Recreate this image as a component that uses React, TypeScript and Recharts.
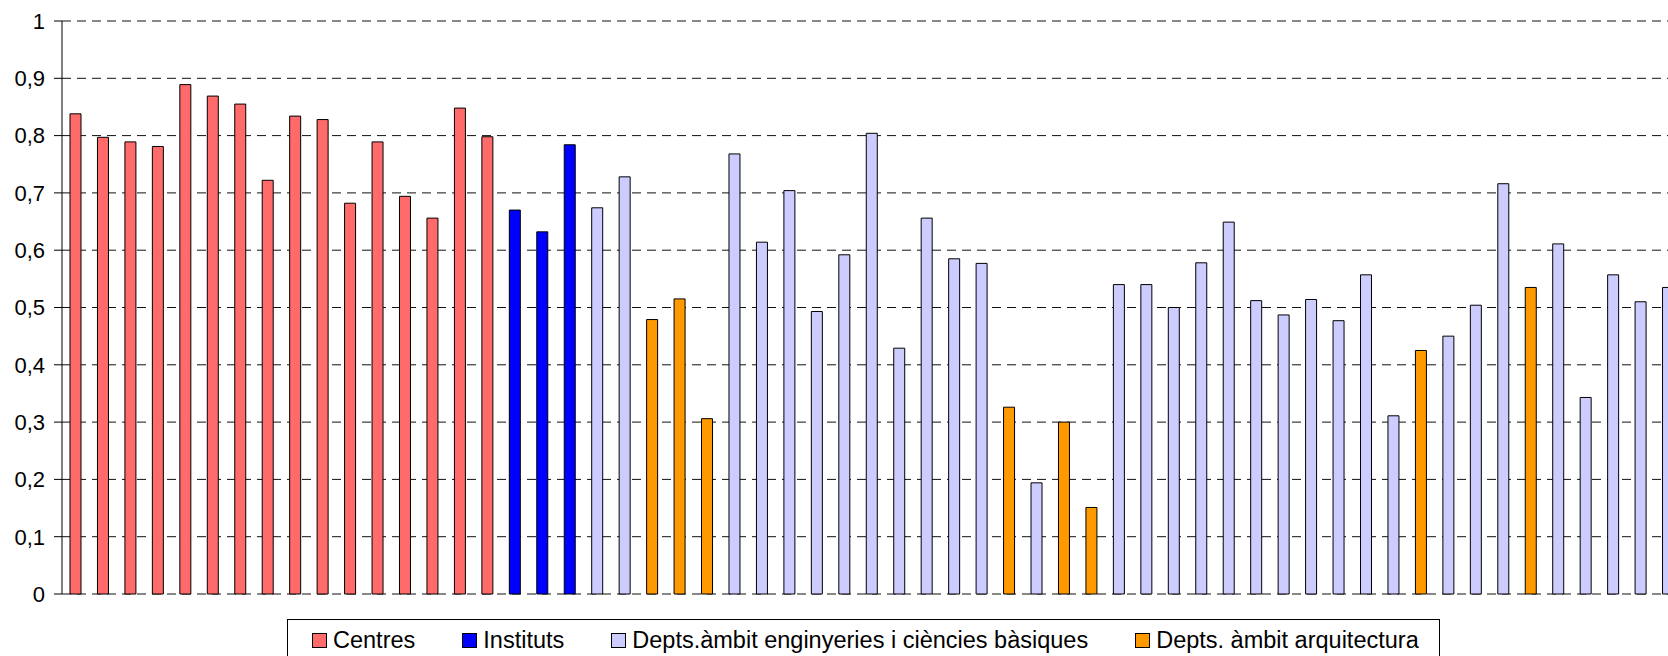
import React from "react";
import { BarChart, Bar, Cell, XAxis, YAxis, CartesianGrid } from "recharts";

// one entry per bar, left to right (the picture is cut after the 59th)
const units = Array.from({ length: 59 }, (_, i) => `U${i + 1}`);

const values = [
  0.838, 0.797, 0.789, 0.781, 0.889, 0.869, 0.855, 0.722, 0.834, 0.828,
  0.682, 0.789, 0.694, 0.656, 0.848, 0.798,
  0.67, 0.632, 0.784,
  0.674, 0.728,
  0.479, 0.515, 0.306,
  0.768, 0.614, 0.704, 0.493, 0.592, 0.804, 0.429, 0.656, 0.585, 0.577,
  0.326, 0.194, 0.3, 0.151,
  0.54, 0.54, 0.5, 0.578, 0.649, 0.512, 0.487, 0.514, 0.477, 0.557, 0.311,
  0.425, 0.45, 0.504, 0.716, 0.535, 0.611, 0.343, 0.557, 0.51, 0.535,
];

// C = Centres, I = Instituts, E = Depts. enginyeries, A = Depts. arquitectura
const groups = [
  "C", "C", "C", "C", "C", "C", "C", "C", "C", "C", "C", "C", "C", "C", "C", "C",
  "I", "I", "I",
  "E", "E",
  "A", "A", "A",
  "E", "E", "E", "E", "E", "E", "E", "E", "E", "E",
  "A", "E", "A", "A",
  "E", "E", "E", "E", "E", "E", "E", "E", "E", "E", "E",
  "A", "E", "E", "E", "A", "E", "E", "E", "E", "E",
];

const yTicks = [0, 0.1, 0.2, 0.3, 0.4, 0.5, 0.6, 0.7, 0.8, 0.9, 1];

const legendItems = [
  { key: "C", label: "Centres", color: "#FF6B6B" },
  { key: "I", label: "Instituts", color: "#0000FF" },
  { key: "E", label: "Depts.àmbit enginyeries i ciències bàsiques", color: "#CCCCFF" },
  { key: "A", label: "Depts. àmbit arquitectura", color: "#FF9900" },
];

const colorOf: Record<string, string> = Object.fromEntries(
  legendItems.map((l) => [l.key, l.color])
);

const data = units.map((u, i) => ({ unit: u, value: values[i], group: groups[i] }));

const FONT = '"Liberation Sans", Arial, Helvetica, sans-serif';

export default function App() {
  return (
    <div
      style={{
        position: "absolute",
        left: 0,
        top: 0,
        width: 1668,
        height: 656,
        overflow: "hidden",
        background: "#fff",
        fontFamily: FONT,
      }}
    >
      <BarChart
        width={1682}
        height={656}
        data={data}
        margin={{ top: 21, right: 0, bottom: 62, left: 0 }}
      >
        <CartesianGrid
          vertical={false}
          stroke="#111"
          strokeDasharray="9 6"
        />
        <XAxis dataKey="unit" hide />
        <YAxis
          width={62}
          domain={[0, 1]}
          ticks={yTicks}
          interval={0}
          tickSize={8}
          tickMargin={9}
          tickFormatter={(v: number) => String(v).replace(".", ",")}
          tick={{ fill: "#000", fontSize: 22, fontFamily: FONT }}
          axisLine={{ stroke: "#000", strokeWidth: 1 }}
          tickLine={{ stroke: "#000", strokeWidth: 1 }}
        />
        <Bar dataKey="value" barSize={11} stroke="#000" strokeWidth={1} isAnimationActive={false}>
          {data.map((d) => (
            <Cell key={d.unit} fill={colorOf[d.group]} />
          ))}
        </Bar>
      </BarChart>

      <div
        style={{
          position: "absolute",
          left: 287,
          top: 619,
          width: 1151,
          height: 60,
          border: "1px solid #000",
        }}
      >
        <div
          style={{
            position: "absolute",
            left: 24,
            top: 9,
            display: "flex",
            alignItems: "center",
            gap: 47,
            whiteSpace: "nowrap",
          }}
        >
          {legendItems.map((l) => (
            <div key={l.key} style={{ display: "flex", alignItems: "center" }}>
              <span
                style={{
                  display: "inline-block",
                  width: 13,
                  height: 13,
                  background: l.color,
                  border: "1px solid #000",
                  marginRight: 6,
                }}
              />
              <span style={{ fontSize: 23.5, lineHeight: "23px", color: "#000" }}>{l.label}</span>
            </div>
          ))}
        </div>
      </div>
    </div>
  );
}
